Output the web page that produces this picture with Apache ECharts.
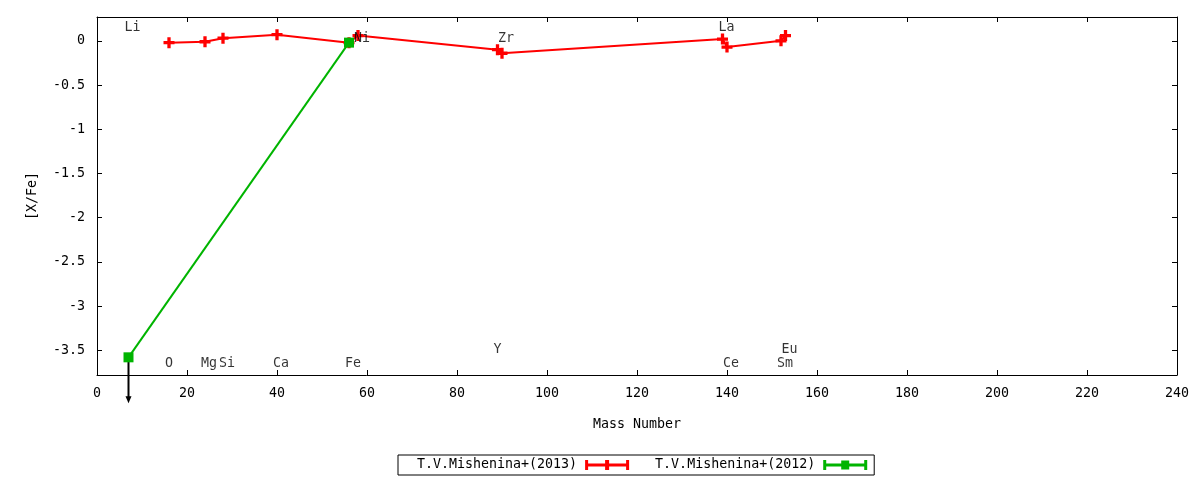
<!DOCTYPE html>
<html><head><meta charset="utf-8">
<script src="https://cdn.jsdelivr.net/npm/echarts@6/dist/echarts.min.js"></script>
<style>html,body{margin:0;padding:0;background:#fff}#c{width:1200px;height:480px}</style>
</head><body><div id="c"></div>
<script>
// Data
var mishenina2013Mass = [16, 24, 28, 40, 56, 58, 89, 90, 139, 140, 152, 153];
var mishenina2013Val  = [-0.02, -0.01, 0.03, 0.07, -0.02, 0.06, -0.10, -0.14, 0.02, -0.07, 0.00, 0.06];
var mishenina2012Mass = [7, 56];
var mishenina2012Val  = [-3.58, -0.02];
var upperLimitMass = [7];
var upperLimitFrom = [-3.58];
var upperLimitTo   = [-4.1];
var elementNames = ['Li','O','Mg','Si','Ca','Fe','Ni','Y','Zr','La','Ce','Sm','Eu'];
var elementMass  = [7, 16, 24, 28, 40, 56, 58, 89, 90, 139, 140, 152, 153];
var elementLabelY = [0.155, -3.65, -3.65, -3.65, -3.65, -3.65, 0.03, -3.49, 0.03, 0.155, -3.65, -3.65, -3.49];
var xTicks = {min: 0, max: 240, step: 20};
var yRange = {min: -3.78, max: 0.27};

function zip(a, b) { return a.map(function (v, i) { return [v, b[i]]; }); }

var FONT = 'DejaVu Sans Mono';
var FS = 13.3;
var plusPath = 'path://M3.5,0H6.5V3.5H10V6.5H6.5V10H3.5V6.5H0V3.5H3.5Z';
var legendIconRed = 'path://M0,0H3V3.5H20V0H24V3.5H41V0H44V10H41V6.5H24V10H20V6.5H3V10H0Z';
var legendIconGreen = 'path://M0,0H3V3.5H18V0.5H26V3.5H41V0H44V10H41V6.5H26V9.5H18V6.5H3V10H0Z';
var RED = '#ff0000', GREEN = '#00b400';
var N13 = 'T.V.Mishenina+(2013)', N12 = 'T.V.Mishenina+(2012)';

var chart = echarts.init(document.getElementById('c'), null, {renderer: 'canvas'});
var axisCommon = {
  axisLine: {show: true, onZero: false, lineStyle: {color: '#000', width: 1}},
  axisTick: {show: true, inside: true, length: 5, lineStyle: {color: '#000'}},
  splitLine: {show: false}
};
chart.setOption({
  animation: false,
  backgroundColor: '#fff',
  textStyle: {fontFamily: FONT},
  grid: {left: 97, right: 23, top: 17, bottom: 105, containLabel: false},
  legend: {
    data: [{name: N13, icon: legendIconRed, itemStyle: {color: RED, opacity: 1}},
           {name: N12, icon: legendIconGreen, itemStyle: {color: GREEN, opacity: 1}}],
    left: 398, top: 455, orient: 'horizontal', align: 'right',
    padding: [3, 7, 3, 19], itemGap: 26,
    itemWidth: 44, itemHeight: 10,
    borderColor: '#000', borderWidth: 1, borderRadius: 0,
    textStyle: {fontFamily: FONT, fontSize: FS, color: '#000', lineHeight: 14, padding: [0, 3, 0, 0]},
    selectedMode: false
  },
  xAxis: [
    Object.assign({
      type: 'value', position: 'bottom', min: xTicks.min, max: xTicks.max, interval: xTicks.step,
      name: 'Mass Number', nameLocation: 'middle', nameGap: 43,
      nameTextStyle: {fontFamily: FONT, fontSize: FS, color: '#000'},
      axisLabel: {fontFamily: FONT, fontSize: FS, color: '#000', margin: 12}
    }, axisCommon),
    Object.assign({
      type: 'value', position: 'top', min: xTicks.min, max: xTicks.max, interval: xTicks.step,
      axisLabel: {show: false}
    }, axisCommon)
  ],
  yAxis: [
    Object.assign({
      type: 'value', position: 'left', min: yRange.min, max: yRange.max, splitNumber: 8,
      name: '[X/Fe]', nameLocation: 'middle', nameGap: 58,
      nameTextStyle: {fontFamily: FONT, fontSize: FS, color: '#000'},
      axisLabel: {fontFamily: FONT, fontSize: FS, color: '#000', margin: 12, showMinLabel: false, showMaxLabel: false}
    }, axisCommon),
    Object.assign({
      type: 'value', position: 'right', min: yRange.min, max: yRange.max, splitNumber: 8,
      axisLabel: {show: false}
    }, axisCommon)
  ],
  series: [
    // legend key entries (gnuplot-style sample with error-bar caps)
    {name: N13, type: 'scatter', data: [], itemStyle: {color: RED, opacity: 1}, symbol: legendIconRed},
    {name: N12, type: 'scatter', data: [], itemStyle: {color: GREEN, opacity: 1}, symbol: legendIconGreen},
    {
      name: N13, type: 'line', data: zip(mishenina2013Mass, mishenina2013Val),
      symbol: plusPath, symbolSize: 11, showAllSymbol: true,
      lineStyle: {color: RED, width: 2}, itemStyle: {color: RED}, z: 3
    },
    {
      name: N12, type: 'line', data: zip(mishenina2012Mass, mishenina2012Val),
      symbol: 'rect', symbolSize: 10, showAllSymbol: true,
      lineStyle: {color: GREEN, width: 2}, itemStyle: {color: GREEN}, z: 4
    },
    {
      name: 'limit', type: 'custom', clip: false, z: 2,
      data: upperLimitMass.map(function (m, i) { return [m, upperLimitFrom[i], upperLimitTo[i]]; }),
      renderItem: function (params, api) {
        var p0 = api.coord([api.value(0), api.value(1)]);
        var p1 = api.coord([api.value(0), api.value(2)]);
        return {type: 'group', children: [
          {type: 'line', shape: {x1: p0[0], y1: p0[1], x2: p1[0], y2: p1[1] - 5}, style: {stroke: '#000', lineWidth: 2}},
          {type: 'polygon', shape: {points: [[p1[0] - 3, p1[1] - 7], [p1[0] + 3, p1[1] - 7], [p1[0], p1[1]]]}, style: {fill: '#000'}}
        ]};
      }
    },
    {
      name: 'labels', type: 'scatter', data: zip(elementMass, elementLabelY).map(function (d, i) { return {value: d, name: elementNames[i]}; }),
      symbolSize: 1, itemStyle: {color: 'rgba(0,0,0,0)'}, silent: true, z: 5,
      label: {show: true, position: 'right', distance: 0, offset: [-4.5, 0], formatter: '{b}',
        fontFamily: FONT, fontSize: FS, color: '#000'}
    }
  ]
});
</script></body></html>
